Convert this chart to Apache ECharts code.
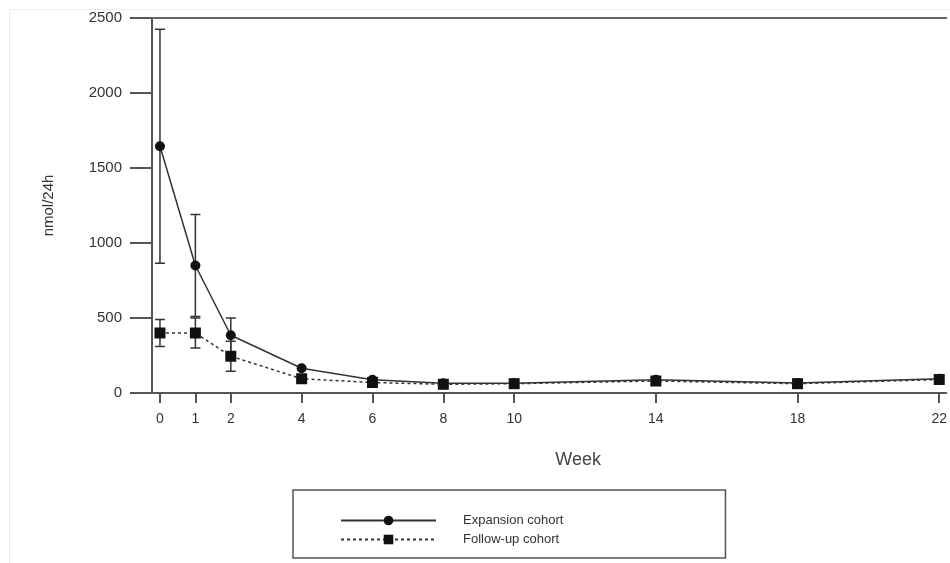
<!DOCTYPE html>
<html><head><meta charset="utf-8">
<script src="https://cdn.jsdelivr.net/npm/echarts@6/dist/echarts.min.js"></script>
<style>html,body{margin:0;padding:0;background:#fff}#c{width:950px;height:563px}</style>
</head><body><div id="c"></div>
<script>
var weeks = [0, 1, 2, 4, 6, 8, 10, 14, 18, 22];
var weekTicks = [0, 1, 2, 4, 6, 8, 10, 14, 18, 22];
var expansion = [1645, 850, 385, 165, 88, 65, 65, 88, 67, 95];
var expansionErr = [780, 340, 115, null, null, null, null, null, null, null];
var followup = [400, 400, 245, 95, 70, 58, 62, 80, 62, 90];
var followupErr = [90, 100, 100, null, null, null, null, null, null, null];
var yTicks = [0, 500, 1000, 1500, 2000, 2500];
var seriesNames = ['Expansion cohort', 'Follow-up cohort'];

function pairs(xs, ys) { return xs.map(function (x, i) { return [x, ys[i]]; }); }
function errs(xs, ys, es) {
  var out = [];
  xs.forEach(function (x, i) { if (es[i] != null) out.push([x, ys[i] - es[i], ys[i] + es[i]]); });
  return out;
}
function errRender(params, api) {
  var x = api.value(0);
  var lo = api.coord([x, api.value(1)]);
  var hi = api.coord([x, api.value(2)]);
  var w = 5;
  var st = { stroke: '#333', lineWidth: 1.5 };
  return { type: 'group', children: [
    { type: 'line', shape: { x1: lo[0], y1: lo[1], x2: hi[0], y2: hi[1] }, style: st },
    { type: 'line', shape: { x1: lo[0] - w, y1: lo[1], x2: lo[0] + w, y2: lo[1] }, style: st },
    { type: 'line', shape: { x1: hi[0] - w, y1: hi[1], x2: hi[0] + w, y2: hi[1] }, style: st }
  ]};
}

var chart = echarts.init(document.getElementById('c'), null, { renderer: 'canvas' });
chart.setOption({
  animation: false,
  backgroundColor: '#fff',
  grid: { left: 152, right: 0, top: 18, bottom: 170 },
  graphic: [{ type: 'rect', left: 7, top: 7, shape: { width: 960, height: 600 }, style: { fill: 'none', stroke: '#ececec', lineWidth: 1 }, silent: true }],
  legend: {
    orient: 'vertical', left: 293, top: 490,
    padding: [24, 162, 12, 47],
    itemWidth: 95, itemHeight: 12, itemGap: 6,
    borderColor: '#555', borderWidth: 1.5,
    textStyle: { fontFamily: 'Arial, Liberation Sans, sans-serif', fontSize: 13, color: '#333', padding: [0, 0, 0, 22] },
    data: seriesNames
  },
  xAxis: [{
    type: 'value', min: -0.225, max: 22.2,
    name: 'Week', nameLocation: 'middle', nameGap: 58,
    nameTextStyle: { fontFamily: 'Arial, Liberation Sans, sans-serif', fontSize: 18, color: '#444', padding: [0, 0, 0, 58] },
    splitLine: { show: false },
    axisLine: { show: true, onZero: false, lineStyle: { color: '#555', width: 2 } },
    axisTick: { show: true, customValues: weekTicks, length: 10, lineStyle: { color: '#555', width: 2 } },
    axisLabel: { customValues: weekTicks, margin: 19, fontFamily: 'Arial, Liberation Sans, sans-serif', fontSize: 14, color: '#333' }
  }, {
    type: 'value', position: 'top', min: -0.225, max: 22.2,
    axisLine: { show: true, onZero: false, lineStyle: { color: '#666', width: 2 } },
    axisTick: { show: false }, axisLabel: { show: false }, splitLine: { show: false }
  }],
  yAxis: {
    type: 'value', min: 0, max: 2500, interval: 500,
    name: 'nmol/24h', nameLocation: 'middle', nameGap: 96, nameRotate: 90,
    nameTextStyle: { fontFamily: 'Arial, Liberation Sans, sans-serif', fontSize: 15, color: '#333' },
    splitLine: { show: false },
    axisLine: { show: true, onZero: false, lineStyle: { color: '#555', width: 2 } },
    axisTick: { show: true, inside: false, length: 22, lineStyle: { color: '#555', width: 2 } },
    axisLabel: { margin: 30, fontFamily: 'Arial, Liberation Sans, sans-serif', fontSize: 15, color: '#333',
      formatter: function (v) { return yTicks.indexOf(v) >= 0 ? String(v) : ''; } }
  },
  series: [
    { type: 'custom', name: 'errE', renderItem: errRender, data: errs(weeks, expansion, expansionErr), encode: { x: 0, y: [1, 2] }, z: 1, silent: true },
    { type: 'custom', name: 'errF', renderItem: errRender, data: errs(weeks, followup, followupErr), encode: { x: 0, y: [1, 2] }, z: 1, silent: true },
    { type: 'line', name: seriesNames[0], data: pairs(weeks, expansion), symbol: 'circle', symbolSize: 10,
      lineStyle: { color: '#333', width: 1.5, type: 'solid' }, itemStyle: { color: '#111' }, z: 3 },
    { type: 'line', name: seriesNames[1], data: pairs(weeks, followup), symbol: 'rect', symbolSize: 11,
      lineStyle: { color: '#333', width: 1.5, type: [3, 3] }, itemStyle: { color: '#111' }, z: 2 }
  ]
});
</script></body></html>
